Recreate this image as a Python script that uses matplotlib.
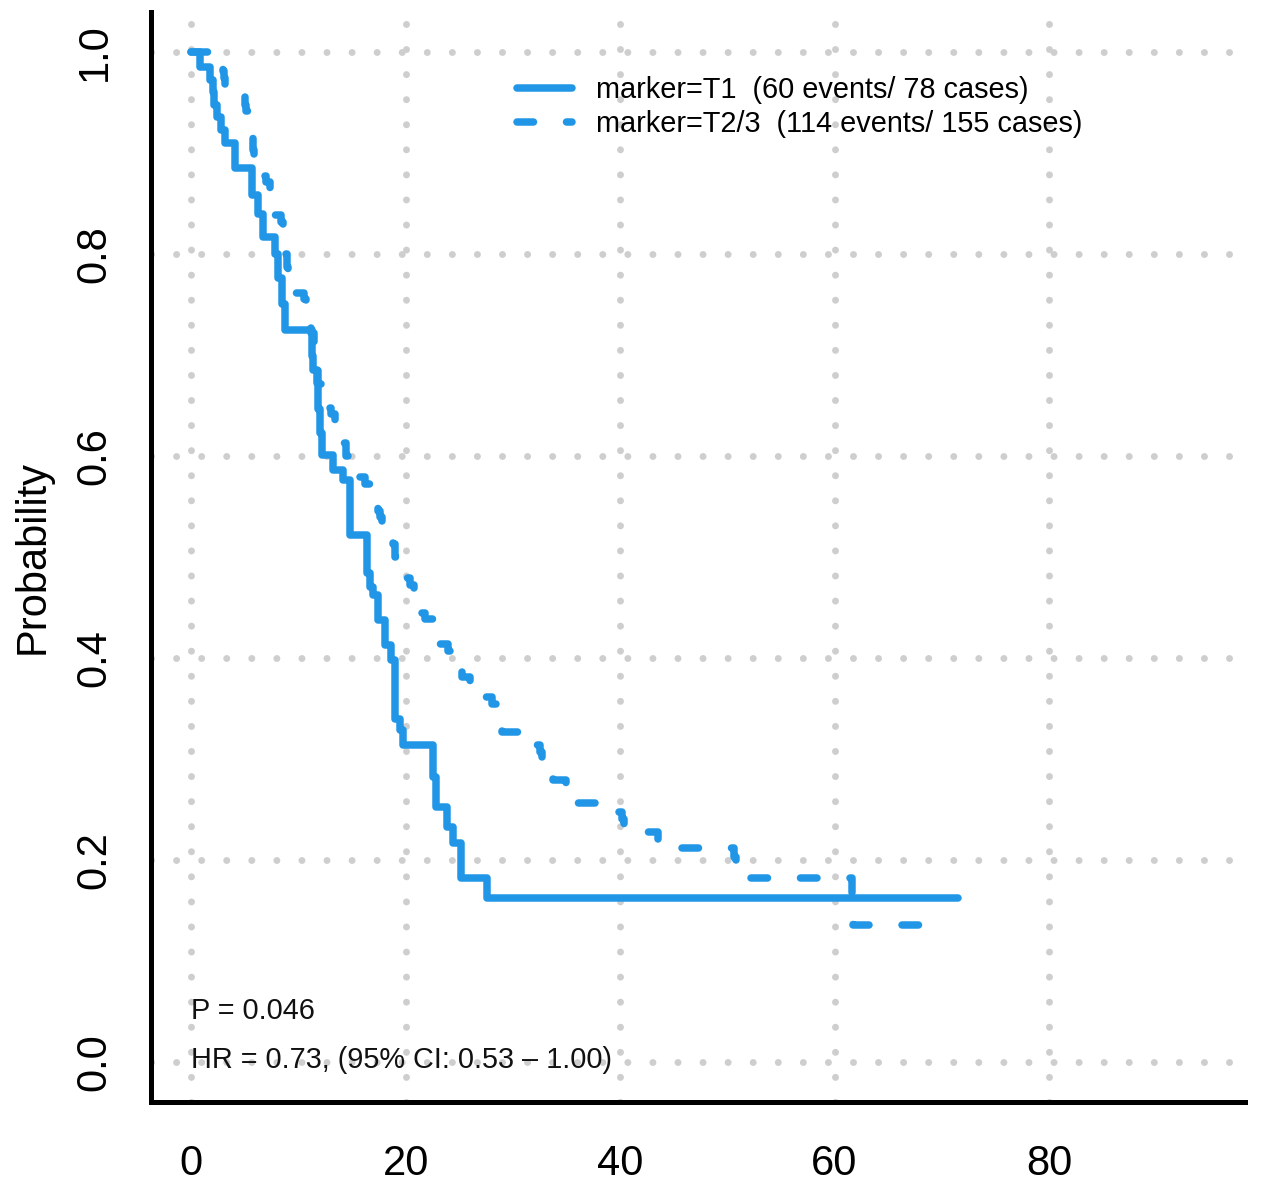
import matplotlib
matplotlib.use("Agg")
import matplotlib.pyplot as plt

# Kaplan-Meier steps: drop times (months) and survival after each drop
t1_times = [0.85, 1.8, 2.0, 2.1, 2.4, 2.8, 3.2, 4.1, 4.1, 5.7, 5.7, 6.2, 6.7, 7.8, 8.1,
            8.1, 8.5, 8.5, 8.8, 8.8, 11.3, 11.3, 11.4, 11.7, 11.8, 11.8, 12.0, 12.0, 12.2,
            13.2, 14.2, 14.8, 14.8, 14.8, 16.4, 16.4, 16.4, 16.7, 17.0, 17.4, 17.4, 18.1,
            18.1, 18.6, 19.0, 19.0, 19.0, 19.0, 19.5, 19.8, 22.6, 22.6, 22.8, 22.8, 23.9,
            24.4, 25.2, 25.2, 27.6]
t1_surv = [0.985, 0.972, 0.960, 0.948, 0.936, 0.923, 0.910, 0.897, 0.885, 0.872, 0.858,
           0.840, 0.817, 0.800, 0.790, 0.776, 0.764, 0.751, 0.739, 0.725, 0.712, 0.699,
           0.685, 0.672, 0.660, 0.647, 0.636, 0.623, 0.601, 0.586, 0.576, 0.561, 0.547,
           0.522, 0.509, 0.497, 0.484, 0.470, 0.462, 0.450, 0.438, 0.425, 0.413, 0.398,
           0.383, 0.368, 0.353, 0.340, 0.329, 0.314, 0.298, 0.282, 0.267, 0.252, 0.233,
           0.217, 0.200, 0.182, 0.162]
t1_end = 71.5

t23_times = [2.0, 3.0, 3.0, 3.1, 3.2, 3.3, 4.6, 5.0, 5.1, 5.5, 5.5, 5.6, 5.7, 5.8, 5.8,
             5.9, 6.0, 6.6, 7.0, 7.4, 7.6, 7.7, 8.4, 8.6, 8.8, 8.8, 8.9, 9.0, 9.2, 9.4,
             10.5, 10.7, 11.0, 11.2, 11.5, 11.8, 11.8, 12.1, 12.4, 12.6, 13.0, 13.4, 13.9,
             14.0, 14.4, 14.9, 15.5, 15.7, 16.2, 16.8, 17.2, 17.4, 17.6, 17.8, 18.6, 18.8,
             19.0, 19.2, 19.5, 19.8, 20.4, 20.8, 20.9, 21.0, 21.0, 21.8, 22.6, 23.0, 23.2,
             24.0, 24.4, 25.1, 25.3, 26.0, 26.5, 27.4, 28.1, 28.8, 28.8, 28.9, 29.0, 31.5,
             32.1, 32.5, 32.7, 33.0, 33.2, 33.7, 35.0, 35.6, 35.8, 36.1, 38.6, 40.2, 40.4,
             41.5, 43.5, 45.0, 50.6, 50.8, 51.3, 61.6, 61.7]
t23_surv = [0.994, 0.987, 0.981, 0.974, 0.968, 0.961, 0.955, 0.948, 0.942, 0.935, 0.929,
            0.923, 0.916, 0.910, 0.903, 0.897, 0.890, 0.877, 0.871, 0.864, 0.852, 0.839,
            0.832, 0.826, 0.813, 0.800, 0.787, 0.774, 0.768, 0.761, 0.755, 0.748, 0.735,
            0.722, 0.709, 0.690, 0.671, 0.664, 0.658, 0.648, 0.642, 0.636, 0.623, 0.613,
            0.600, 0.594, 0.585, 0.579, 0.572, 0.566, 0.553, 0.546, 0.540, 0.530, 0.520,
            0.513, 0.500, 0.494, 0.487, 0.479, 0.472, 0.466, 0.459, 0.452, 0.445, 0.439,
            0.433, 0.420, 0.414, 0.407, 0.400, 0.388, 0.381, 0.375, 0.368, 0.361, 0.354,
            0.347, 0.340, 0.333, 0.327, 0.320, 0.314, 0.307, 0.300, 0.294, 0.287, 0.279,
            0.275, 0.270, 0.263, 0.256, 0.248, 0.241, 0.235, 0.228, 0.217, 0.212, 0.203,
            0.193, 0.182, 0.159, 0.136]
t23_end = 68.4

labels = ["marker=T1  (60 events/ 78 cases)", "marker=T2/3  (114 events/ 155 cases)"]
p_text = "P = 0.046"
hr_text = "HR = 0.73, (95% CI: 0.53 \u2013 1.00)"
xticks = [0, 20, 40, 60, 80]
yticks = [0.0, 0.2, 0.4, 0.6, 0.8, 1.0]

plt.rcParams["font.family"] = ["Liberation Sans", "DejaVu Sans"]
plt.rcParams["lines.dash_capstyle"] = "round"
plt.rcParams["lines.solid_capstyle"] = "round"
plt.rcParams["lines.solid_joinstyle"] = "round"
plt.rcParams["lines.dash_joinstyle"] = "round"

blue = "#2196E6"

fig = plt.figure(figsize=(12.62, 11.86), dpi=100)
ax = fig.add_axes([0.1193, 0.0705, 0.8673, 0.9197])

ax.set_xlim(-3.78, 98.28)
ax.set_ylim(-0.04, 1.04)

ax.grid(True, color="#cecece", linewidth=5.0, linestyle=(0, (0.01, 3.6)), zorder=0)
ax.set_axisbelow(True)

x1 = [0] + t1_times + [t1_end]
y1 = [1.0] + t1_surv + [t1_surv[-1]]
x2 = [0] + t23_times + [t23_end]
y2 = [1.0] + t23_surv + [t23_surv[-1]]

ax.step(x2, y2, where="post", color=blue, linewidth=5.4,
        linestyle=(0, (2.2, 4.4)), label=labels[1], zorder=3)
ax.step(x1, y1, where="post", color=blue, linewidth=5.4,
        linestyle="-", label=labels[0], zorder=4)

handles, labs = ax.get_legend_handles_labels()
ax.legend([handles[1], handles[0]], [labs[1], labs[0]],
          loc="upper left", bbox_to_anchor=(517 / 1262, 1 - 76 / 1186),
          bbox_transform=fig.transFigure, frameon=False, fontsize=20.8,
          handlelength=1.9, handletextpad=0.85, labelspacing=0.2,
          borderpad=0, borderaxespad=0)

ax.text(0, 0.05, p_text, fontsize=20.8, va="center", ha="left", color="#111111")
ax.text(0, 0.002, hr_text, fontsize=20.8, va="center", ha="left", color="#111111")

for side in ["top", "right"]:
    ax.spines[side].set_visible(False)
for side in ["left", "bottom"]:
    ax.spines[side].set_linewidth(3.6)
    ax.spines[side].set_color("black")

ax.set_xticks(xticks)
ax.set_xticklabels([str(v) for v in xticks])
ax.set_yticks(yticks)
ax.set_yticklabels(["%.1f" % v for v in yticks], rotation=90, va="center")
ax.tick_params(axis="both", length=0, width=3.0, labelsize=30)
ax.tick_params(axis="x", pad=30)
ax.tick_params(axis="y", pad=26)
ax.set_ylabel("Probability", fontsize=30, labelpad=16)

fig.savefig("out.png", dpi=100)
plt.close(fig)
